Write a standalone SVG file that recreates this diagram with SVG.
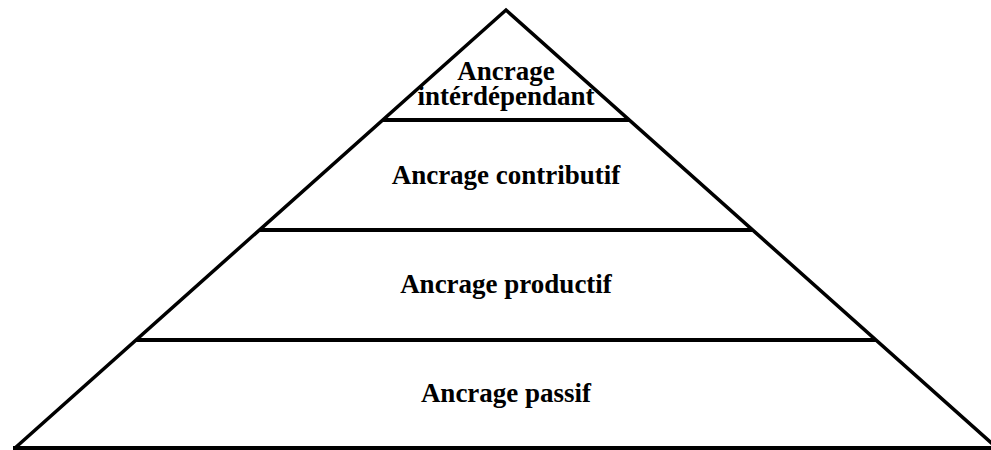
<svg xmlns="http://www.w3.org/2000/svg" width="991" height="450" viewBox="0 0 991 450">
<style>
.t{font-family:"Liberation Serif","Times New Roman",serif;font-weight:bold;font-size:27px;fill:#000;text-anchor:middle}
.l{stroke:#000;stroke-width:4;fill:none}
.d{stroke:#000;stroke-width:3.5;fill:none;stroke-linejoin:miter}
</style>
<rect width="991" height="450" fill="#fff"/>
<g id="connectors">
<polyline class="d" points="15,448 506,10 997,448"/>
<line class="l" x1="13" y1="448" x2="991" y2="448"/>
</g>
<g id="level-interdependant">
<line class="l" x1="383" y1="120" x2="629" y2="120"/>
<text class="t" x="506" y="80">Ancrage</text>
<text class="t" x="506" y="105">intérdépendant</text>
</g>
<g id="level-contributif">
<line class="l" x1="259" y1="230" x2="753" y2="230"/>
<text class="t" x="506" y="184">Ancrage contributif</text>
</g>
<g id="level-productif">
<line class="l" x1="136" y1="340" x2="876" y2="340"/>
<text class="t" x="506" y="293">Ancrage productif</text>
</g>
<g id="level-passif">
<text class="t" x="506" y="402">Ancrage passif</text>
</g>
</svg>
